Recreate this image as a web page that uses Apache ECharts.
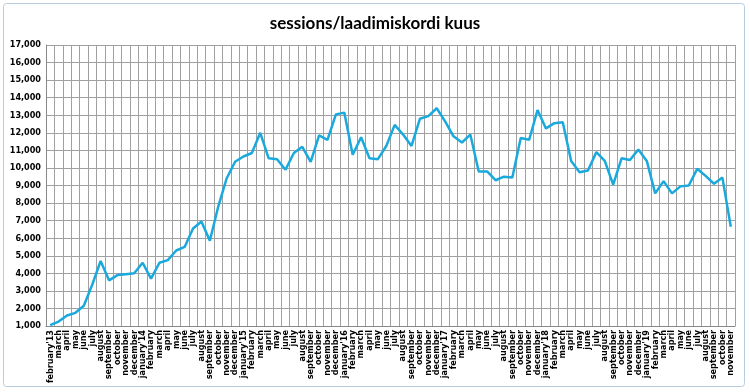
<!DOCTYPE html>
<html><head><meta charset="utf-8">
<script src="https://cdn.jsdelivr.net/npm/echarts@6/dist/echarts.min.js"></script>
<style>html,body{margin:0;padding:0;background:#fff}#c{width:750px;height:392px}</style>
</head><body><div id="c"></div>
<script>
const titleText = "sessions/laadimiskordi kuus";
const categories = [
 "february'13","march","april","may","june","july","august","september","october","november","december",
 "january'14","february","march","april","may","june","july","august","september","october","november","december",
 "january'15","february","march","april","may","june","july","august","september","october","november","december",
 "january'16","february","march","april","may","june","july","august","september","october","november","december",
 "january'17","february","march","april","may","june","july","august","september","october","november","december",
 "january'18","february","march","april","may","june","july","august","september","october","november","december",
 "january'19","february","march","april","may","june","july","august","september","october","november"
];
const sessions = [
 1050,1250,1600,1750,2150,3350,4700,3600,3900,3950,4000,
 4600,3700,4600,4750,5300,5500,6550,6950,5850,7800,9400,10350,
 10650,10850,12000,10550,10500,9900,10850,11200,10350,11850,11600,13050,
 13150,10750,11750,10550,10500,11250,12450,11900,11250,12800,12950,13400,
 12650,11800,11450,11900,9800,9800,9300,9500,9450,11700,11600,13300,
 12250,12550,12600,10400,9750,9850,10900,10400,9050,10550,10450,11050,
 10400,8550,9250,8550,8950,9000,9950,9550,9100,9450,6650
];
const yMin = 1000, yMax = 17000, yStep = 1000;

const chart = echarts.init(document.getElementById('c'), null, {renderer:'canvas'});
chart.setOption({
  animation:false,
  backgroundColor:'#fff',
  graphic:[{type:'rect',shape:{x:3.5,y:3.5,width:741,height:383,r:3},style:{fill:'none',stroke:'#b8cce0',lineWidth:1},silent:true}],
  title:{text:titleText,left:'center',top:10,textStyle:{fontFamily:'Lato, "Open Sans", sans-serif',fontWeight:'bold',fontSize:17,color:'#000'}},
  grid:{left:46,right:15,top:45,bottom:66,containLabel:false},
  xAxis:{type:'category',data:categories,boundaryGap:true,
    axisLine:{lineStyle:{color:'#888',width:1}},
    axisTick:{show:false,interval:0},
    splitLine:{show:true,interval:0,lineStyle:{color:'#a0a0a0',width:1}},
    axisLabel:{interval:0,rotate:90,fontSize:9,fontWeight:'bold',color:'#000',margin:4,fontFamily:'"DejaVu Sans Condensed", "DejaVu Sans", sans-serif'}},
  yAxis:{type:'value',min:yMin,max:yMax,interval:yStep,
    axisLine:{show:true,lineStyle:{color:'#888'}},
    axisTick:{show:false},
    splitLine:{show:true,lineStyle:{color:'#a0a0a0',width:1}},
    axisLabel:{fontSize:9,fontWeight:'bold',color:'#000',margin:5,fontFamily:'"DejaVu Sans Condensed", "DejaVu Sans", sans-serif',
      formatter:v=>v.toLocaleString('en-US')}},
  series:[{type:'line',data:sessions,showSymbol:false,symbol:'none',
    lineStyle:{color:'#1aa9dd',width:2.5},itemStyle:{color:'#1aa9dd'}}]
});
</script></body></html>
